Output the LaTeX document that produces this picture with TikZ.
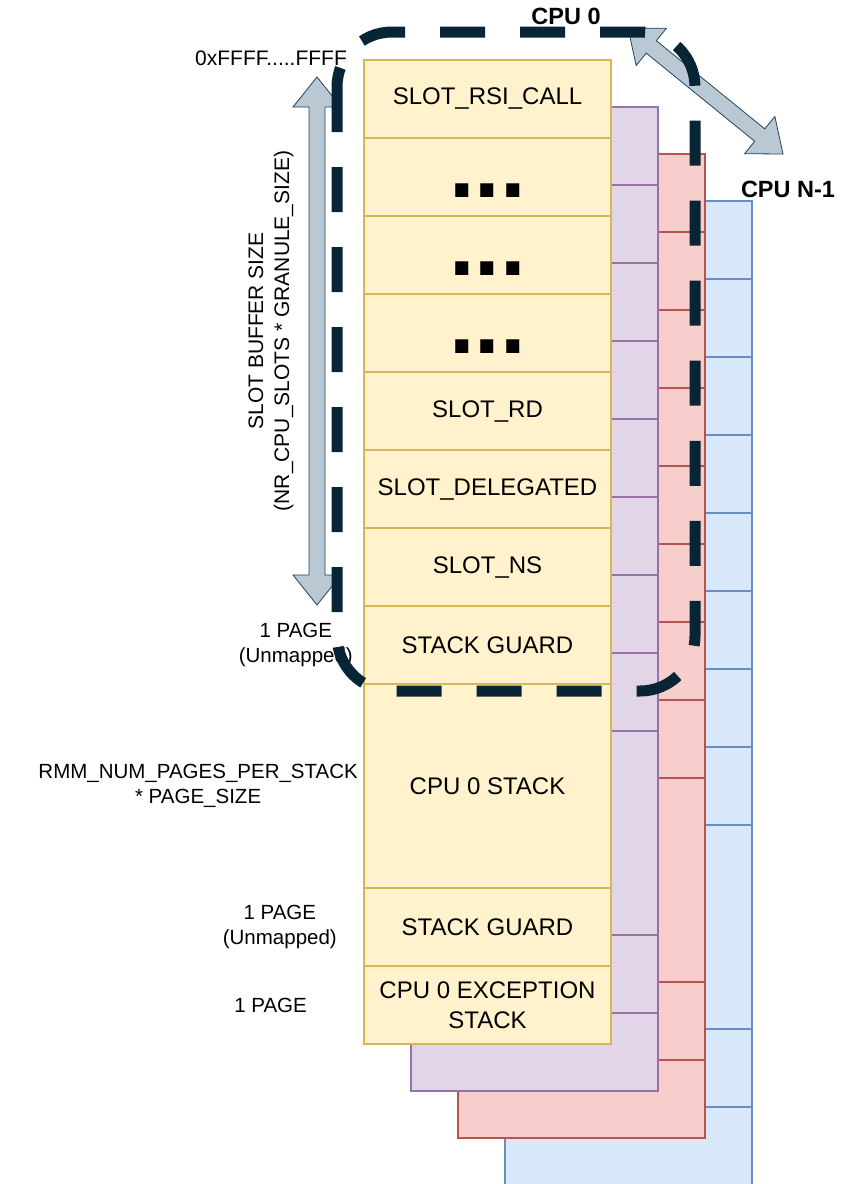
\documentclass[tikz,border=0pt]{standalone}
\usepackage{fontspec}
\setmainfont{Liberation Sans}
\usetikzlibrary{positioning,calc}

\definecolor{slotfill}{HTML}{FFF2CC}\definecolor{slotline}{HTML}{D6B656}
\definecolor{cpuafill}{HTML}{E1D5E7}\definecolor{cpualine}{HTML}{9673A6}
\definecolor{cpubfill}{HTML}{F8CECC}\definecolor{cpubline}{HTML}{B85450}
\definecolor{cpucfill}{HTML}{DAE8FC}\definecolor{cpucline}{HTML}{6C8EBF}
\definecolor{arrowfill}{HTML}{BAC8D3}\definecolor{arrowline}{HTML}{23445D}
\definecolor{boxline}{HTML}{082536}

% wide two-headed arrow between two coordinates
\newcommand{\slotarrow}[2]{%
  \draw[widearrow] (#1)
    -- ($(#1)!30pt!(#2)!24pt!90:(#2)$) -- ($(#1)!30pt!(#2)!8pt!90:(#2)$)
    -- ($(#2)!30pt!(#1)!8pt!-90:(#1)$) -- ($(#2)!30pt!(#1)!24pt!-90:(#1)$)
    -- (#2)
    -- ($(#2)!30pt!(#1)!24pt!90:(#1)$) -- ($(#2)!30pt!(#1)!8pt!90:(#1)$)
    -- ($(#1)!30pt!(#2)!8pt!-90:(#2)$) -- ($(#1)!30pt!(#2)!24pt!-90:(#2)$)
    -- cycle;}

\begin{document}
\begin{tikzpicture}[x=1pt, y=-1pt,
  stackcell/.style={draw, line width=1.3pt, minimum width=247pt, minimum height=78pt,
    inner sep=0pt, outer sep=0pt, align=center, font=\fontsize{24}{30}\selectfont},
  slotcell/.style={stackcell, fill=slotfill, draw=slotline},
  cpuacell/.style={stackcell, fill=cpuafill, draw=cpualine},
  cpubcell/.style={stackcell, fill=cpubfill, draw=cpubline},
  cpuccell/.style={stackcell, fill=cpucfill, draw=cpucline},
  slotdots/.style={font=\fontsize{92}{92}\selectfont\bfseries, text height=41pt},
  sidelabel/.style={align=center, inner sep=0pt, font=\fontsize{20.5}{25}\selectfont},
  cpulabel/.style={inner sep=0pt, font=\fontsize{23.5}{28}\selectfont\bfseries},
  cpubox/.style={draw=boxline, line width=11pt, dash pattern=on 45pt off 35pt, rounded corners=55pt},
  widearrow/.style={draw=arrowline, fill=arrowfill, line width=0.8pt, line join=miter}]
  \useasboundingbox (0,0) rectangle (851,1184);

  % the other CPUs, back to front
  \foreach \k/\sty in {3/cpuccell, 2/cpubcell, 1/cpuacell} {
    \begin{scope}[shift={(47*\k,47*\k)}]
      \node[\sty] (c\k-1) at (487.5,99) {};
      \foreach \i/\h [remember=\i as \j (initially 1)] in {2/78,3/78,4/78,5/78,6/78,7/78,8/78,9/204,10/78,11/78}
        \node[\sty, minimum height=\h pt, below=0pt of c\k-\j] (c\k-\i) {};
    \end{scope}
  }

  % CPU 0
  \node[slotcell] (y1) at (487.5,99) {SLOT\_RSI\_CALL};
  \node[slotcell, slotdots, below=0pt of y1] (y2) {...};
  \node[slotcell, slotdots, below=0pt of y2] (y3) {...};
  \node[slotcell, slotdots, below=0pt of y3] (y4) {...};
  \node[slotcell, below=0pt of y4] (y5) {SLOT\_RD};
  \node[slotcell, below=0pt of y5] (y6) {SLOT\_DELEGATED};
  \node[slotcell, below=0pt of y6] (y7) {SLOT\_NS};
  \node[slotcell, below=0pt of y7] (y8) {STACK GUARD};
  \node[slotcell, minimum height=204pt, below=0pt of y8] (y9) {CPU 0 STACK};
  \node[slotcell, below=0pt of y9] (y10) {STACK GUARD};
  \node[slotcell, below=0pt of y10] (y11) {CPU 0 EXCEPTION\\STACK};

  % labels
  \node[sidelabel, font=\fontsize{21}{25}\selectfont] (topaddr) at (271,58) {0xFFFF.....FFFF};
  \node[sidelabel, font=\fontsize{21}{26}\selectfont, rotate=90] (buflabel) at (271,331)
    {SLOT BUFFER SIZE\\(NR\_CPU\_SLOTS * GRANULE\_SIZE)};
  \node[sidelabel, left=11pt of y8] (guardlabel) {1 PAGE\\(Unmapped)};
  \node[sidelabel, left=6pt of y9] (stacklabel) {RMM\_NUM\_PAGES\_PER\_STACK\\* PAGE\_SIZE};
  \node[sidelabel, left=27pt of y10] (guardlabelb) {1 PAGE\\(Unmapped)};
  \node[sidelabel, left=57pt of y11] (exclabel) {1 PAGE};
  \node[cpulabel] (cpu0) at (566,16) {CPU 0};
  \node[cpulabel] (cpun) at (788,189) {CPU N-1};

  % arrows
  \coordinate (buftop) at (317,77);
  \coordinate (bufbot) at (317,605);
  \coordinate (cpu0end) at (628,28);
  \coordinate (cpunend) at (783,154);
  \slotarrow{buftop}{bufbot}
  \slotarrow{cpu0end}{cpunend}

  % slot buffer of CPU 0
  \draw[cpubox] ($(y1.north west)+(-27,-28)$) rectangle ($(y8.south east)+(84,7)$);
\end{tikzpicture}
\end{document}
